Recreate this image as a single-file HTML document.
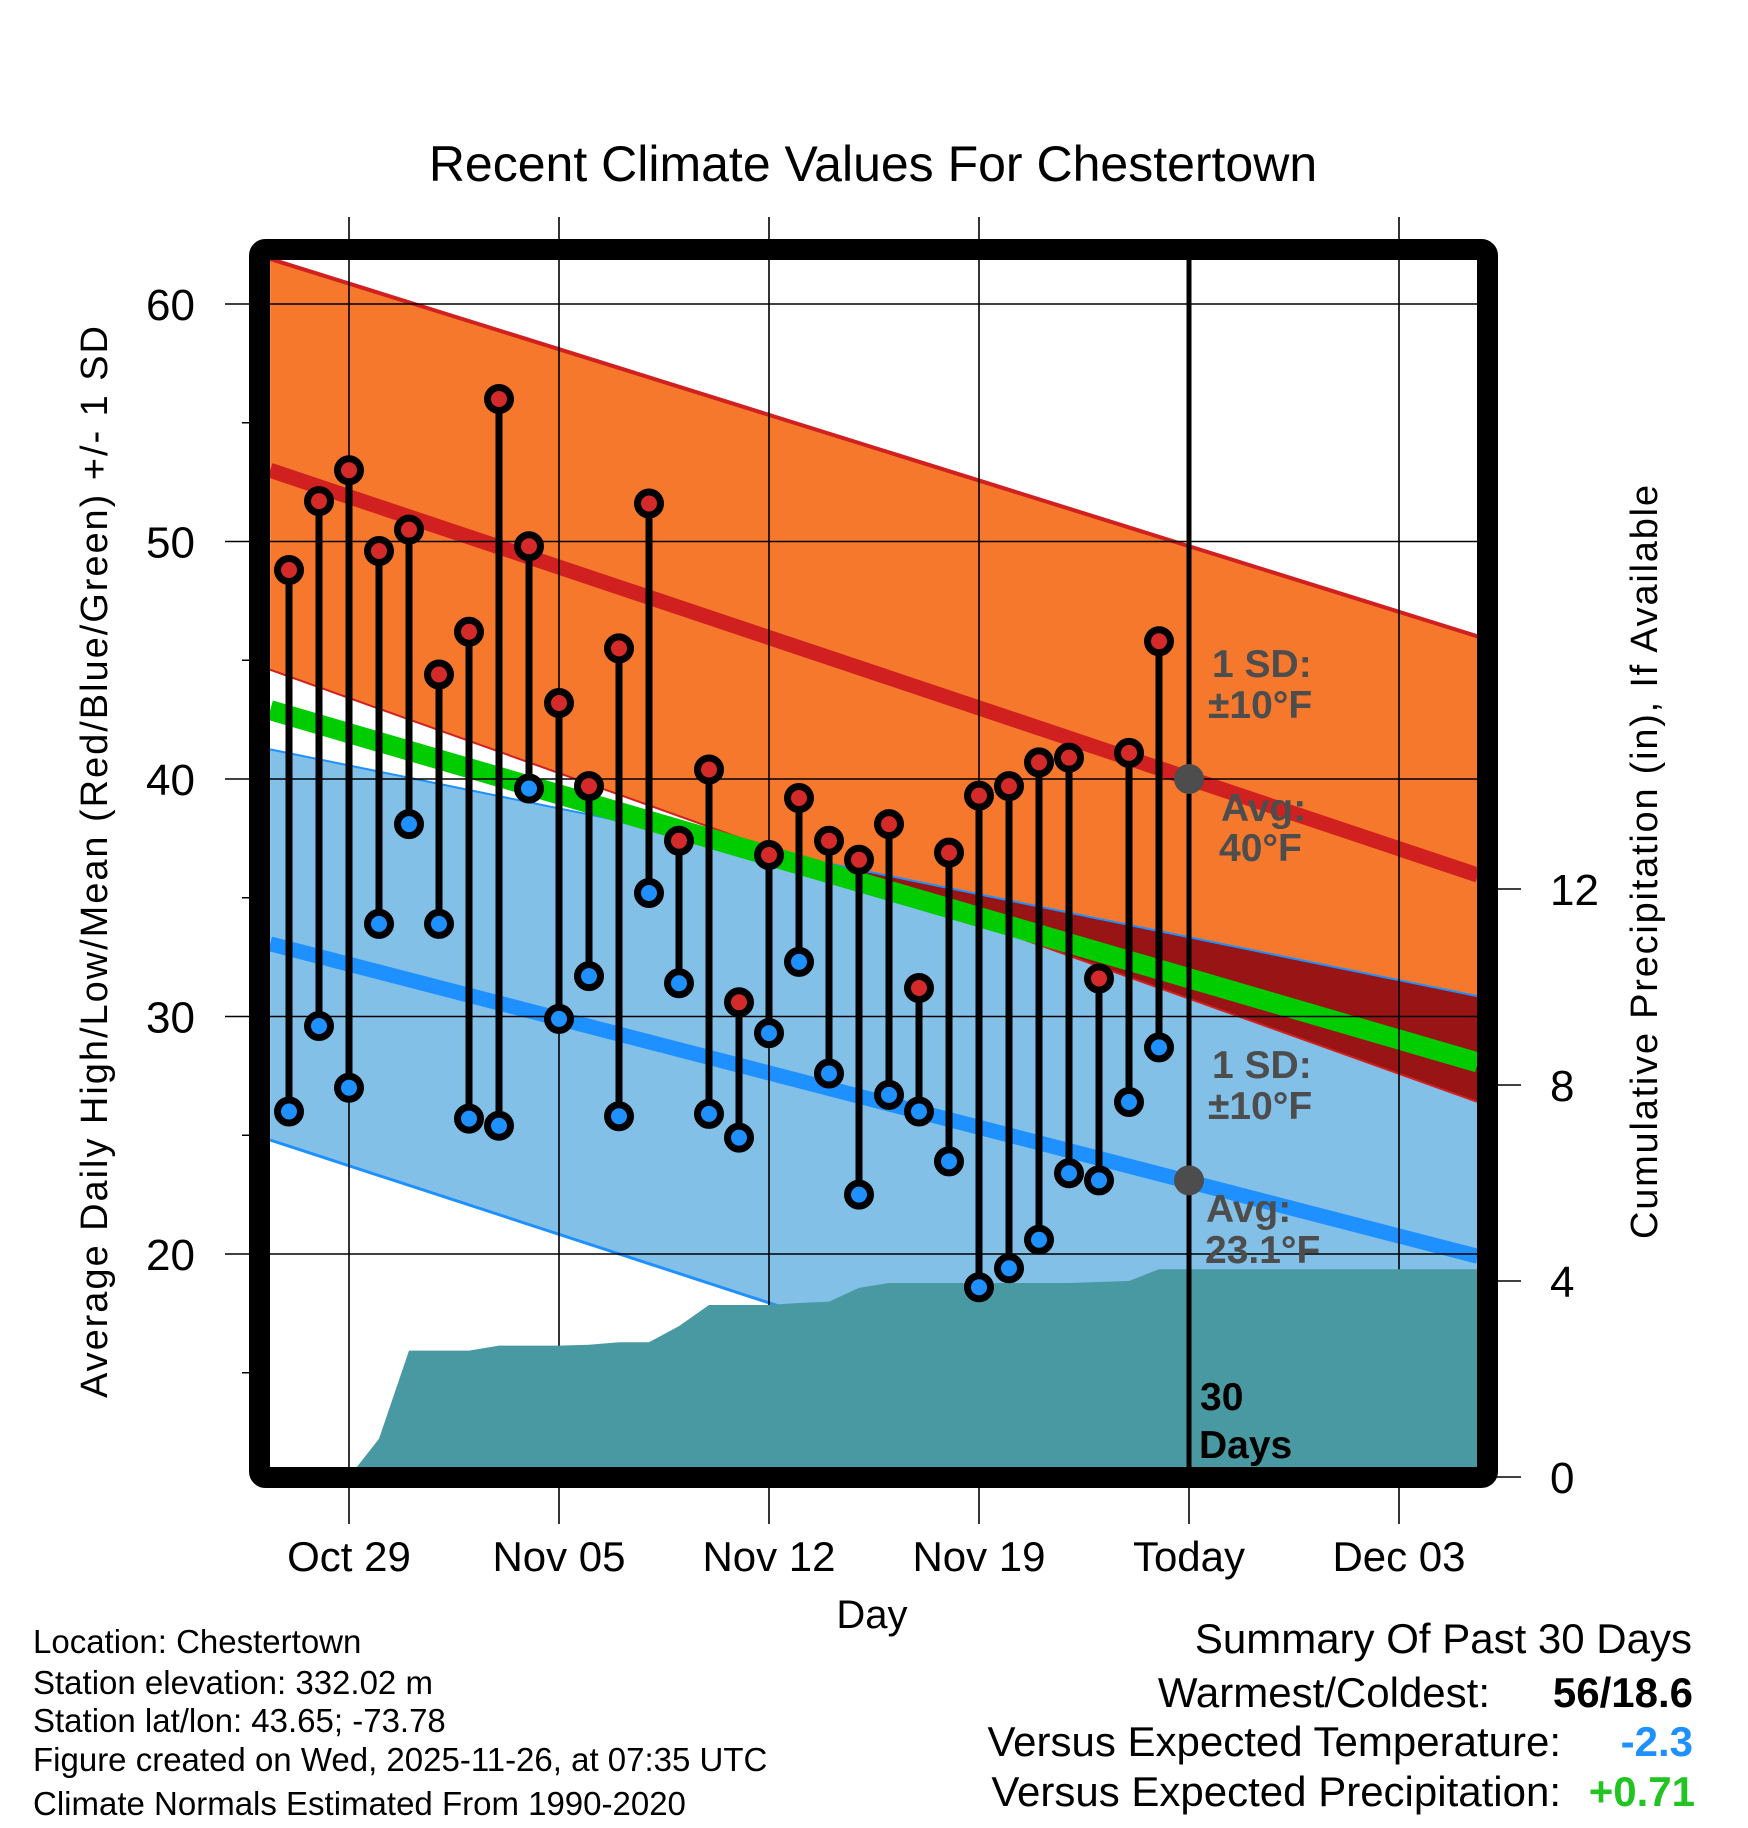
<!DOCTYPE html>
<html><head><meta charset="utf-8"><style>
html,body{margin:0;padding:0;background:#fff;}
svg{display:block;font-family:"Liberation Sans",Arial,sans-serif;}
</style></head><body>
<svg id="chart" width="1748" height="1828" viewBox="0 0 1748 1828" xmlns="http://www.w3.org/2000/svg">
<defs><clipPath id="plotclip"><rect x="270" y="260" width="1208" height="1208"/></clipPath></defs>
<g id="bands" clip-path="url(#plotclip)"></g>
<g id="grid"></g>
<g id="marks"></g>
<g id="axes"></g>
<text x="873" y="181" font-size="50" text-anchor="middle">Recent Climate Values For Chestertown</text>
<text transform="translate(107,862) rotate(-90)" font-size="38" text-anchor="middle" textLength="1072">Average Daily High/Low/Mean (Red/Blue/Green) +/- 1 SD</text>
<text transform="translate(1657,862) rotate(-90)" font-size="38" text-anchor="middle" textLength="754">Cumulative Precipitation (in), If Available</text>
<text x="872" y="1628" font-size="40" text-anchor="middle">Day</text>
<g font-size="33">
<text x="33" y="1653">Location: Chestertown</text>
<text x="33" y="1694">Station elevation: 332.02 m</text>
<text x="33" y="1732">Station lat/lon: 43.65; -73.78</text>
<text x="33" y="1771">Figure created on Wed, 2025-11-26, at 07:35 UTC</text>
<text x="33" y="1815">Climate Normals Estimated From 1990-2020</text>
</g>
<g font-size="42" text-anchor="end">
<text x="1692" y="1653">Summary Of Past 30 Days</text>
<text x="1490" y="1707">Warmest/Coldest:</text>
<text x="1693" y="1707" font-weight="bold">56/18.6</text>
<text x="1561" y="1756">Versus Expected Temperature:</text>
<text x="1693" y="1756" font-weight="bold" fill="#1e90ff">-2.3</text>
<text x="1561" y="1806">Versus Expected Precipitation:</text>
<text x="1695" y="1806" font-weight="bold" fill="#22c422">+0.71</text>
</g>
</svg>
<script>
const dayLabels = ["Oct 29","Nov 05","Nov 12","Nov 19","Today","Dec 03"];
const dayLabelIdx = [2,9,16,23,30,37];
const highs = [48.8,51.7,53.0,49.6,50.5,44.4,46.2,56.0,49.8,43.2,39.7,45.5,51.6,37.4,40.4,30.6,36.8,39.2,37.4,36.6,38.1,31.2,36.9,39.3,39.7,40.7,40.9,31.6,41.1,45.8];
const lows = [26.0,29.6,27.0,33.9,38.1,33.9,25.7,25.4,39.6,29.9,31.7,25.8,35.2,31.4,25.9,24.9,29.3,32.3,27.6,22.5,26.7,26.0,23.9,18.6,19.4,20.6,23.4,23.1,26.4,28.7];
const precip = [0,0,0,0.78,2.58,2.58,2.58,2.68,2.68,2.68,2.7,2.75,2.75,3.08,3.51,3.51,3.51,3.55,3.58,3.86,3.96,3.96,3.96,3.96,3.96,3.96,3.96,3.98,4.0,4.24];
const normDays = [-0.63, 39.63];
const hiUpper = [61.9, 46.0];
const hiMean = [53.0, 35.95];
const hiLower = [44.6, 26.4];
const meanNorm = [42.9, 28.06];
const loUpper = [41.25, 30.85];
const loMean = [33.06, 19.9];
const loLower = [24.8, 8.2];
const yTicks = [20,30,40,50,60];
const yMinor = [15,25,35,45,55];
const pTicks = [0,4,8,12];

const NS="http://www.w3.org/2000/svg";
const xD = d => 289 + 30*d;
const yF = f => 304 + (60-f)*23.75;
const yP = p => 1477 - 49*p;
function mk(tag, attrs, parent){const el=document.createElementNS(NS,tag);for(const k in attrs)el.setAttribute(k,attrs[k]);parent.appendChild(el);return el;}
const bands=document.getElementById('bands'), grid=document.getElementById('grid'), marks=document.getElementById('marks'), axes=document.getElementById('axes');
function band(a,b){const p=[];for(let i=0;i<normDays.length;i++)p.push(xD(normDays[i])+','+yF(a[i]));for(let i=normDays.length-1;i>=0;i--)p.push(xD(normDays[i])+','+yF(b[i]));return p.join(' ');}
function line(a){return normDays.map((d,i)=>xD(d)+','+yF(a[i])).join(' ');}

let e;
e=mk('polygon',{points:band(hiUpper,hiLower),fill:'#f5782c'},bands);


e=mk('polygon',{points:band(loUpper,loLower),fill:'#82c0e8'},bands);


const cp=mk('clipPath',{id:'loclip'},bands);
mk('polygon',{points:band(loUpper,loLower)},cp);
e=mk('polygon',{points:band(hiUpper,hiLower),fill:'#991414','clip-path':'url(#loclip)'},bands);


e=mk('polyline',{points:line(hiUpper),fill:'none',stroke:'#d02020','stroke-width':4},bands);


e=mk('polyline',{points:line(hiLower),fill:'none',stroke:'#d02020','stroke-width':2},bands);


e=mk('polyline',{points:line(loUpper),fill:'none',stroke:'#1e90ff','stroke-width':2},bands);


e=mk('polyline',{points:line(loLower),fill:'none',stroke:'#1e90ff','stroke-width':3},bands);


e=mk('polyline',{points:line(meanNorm),fill:'none',stroke:'#00cc00','stroke-width':20},bands);


e=mk('polyline',{points:line(hiMean),fill:'none',stroke:'#d02020','stroke-width':15},bands);


e=mk('polyline',{points:line(loMean),fill:'none',stroke:'#1e90ff','stroke-width':15},bands);



yTicks.forEach(t=>{
 e=mk('line',{x1:225,x2:1478,y1:yF(t),y2:yF(t),stroke:'#000','stroke-width':1.6},grid);
 
 
});
dayLabelIdx.forEach((d,i)=>{
 if(i===4)return;
 e=mk('line',{x1:xD(d),x2:xD(d),y1:217,y2:1524,stroke:'#000','stroke-width':1.6},grid);
 
 
});

{const pts=[xD(2)+','+yP(0)];precip.forEach((p,i)=>{if(i>=2)pts.push(xD(i)+','+yP(p));});
pts.push('1478,'+yP(precip[precip.length-1]));pts.push('1478,1480');pts.push(xD(2)+',1480');
e=mk('polygon',{points:pts.join(' '),fill:'#4899a1','clip-path':'url(#plotclip)'},marks);

}

e=mk('line',{x1:xD(30),x2:xD(30),y1:260,y2:1468,stroke:'#000','stroke-width':5},marks);


e=mk('line',{x1:xD(30),x2:xD(30),y1:1468,y2:1524,stroke:'#000','stroke-width':1.6},marks);



highs.forEach((h,i)=>{
 e=mk('line',{x1:xD(i),x2:xD(i),y1:yF(h),y2:yF(lows[i]),stroke:'#000','stroke-width':7},marks);
 
 
});
highs.forEach((h,i)=>{
 e=mk('circle',{cx:xD(i),cy:yF(h),r:11.5,fill:'#d42a2a',stroke:'#000','stroke-width':7},marks);
 
 
 e=mk('circle',{cx:xD(i),cy:yF(lows[i]),r:11.5,fill:'#1e90ff',stroke:'#000','stroke-width':7},marks);
 
 
});
e=mk('circle',{cx:xD(30),cy:yF(40),r:15,fill:'#4d4d4d'},marks);


e=mk('circle',{cx:xD(30),cy:yF(23.1),r:15,fill:'#4d4d4d'},marks);



const ann=[["1 SD:",1212,677,'#4d4d4d','hi-sd-label'],["±10°F",1208,718,'#4d4d4d','hi-sd-value'],["Avg:",1221,821,'#4d4d4d','hi-avg-label'],["40°F",1219,861,'#4d4d4d','hi-avg-value'],
["1 SD:",1212,1078,'#4d4d4d','lo-sd-label'],["±10°F",1208,1119,'#4d4d4d','lo-sd-value'],["Avg:",1206,1222,'#4d4d4d','lo-avg-label'],["23.1°F",1205,1263,'#4d4d4d','lo-avg-value'],
["30",1200,1410,'#000','days-count'],["Days",1199,1458,'#000','days-label']];
ann.forEach(a=>{
 e=mk('text',{x:a[1],y:a[2],fill:a[3],'font-size':39,'font-weight':'bold'},marks);
 e.textContent=a[0];
 
 
});

e=mk('rect',{x:259.5,y:249.5,width:1228,height:1228,rx:6,fill:'none',stroke:'#000','stroke-width':21},axes);


yTicks.forEach(t=>{
 e=mk('text',{x:195,y:yF(t)+16,'font-size':44,'text-anchor':'end'},axes);
 e.textContent=t;
 
 
});
yMinor.forEach(t=>{
 e=mk('line',{x1:242,x2:262,y1:yF(t),y2:yF(t),stroke:'#000','stroke-width':1.6},axes);
 
 
});
pTicks.forEach(t=>{
 e=mk('line',{x1:1494,x2:1521,y1:yP(t),y2:yP(t),stroke:'#000','stroke-width':1.6},axes);
 
 
 e=mk('text',{x:1550,y:yP(t)+16,'font-size':44},axes);
 e.textContent=t;
 
 
});
dayLabels.forEach((l,i)=>{
 e=mk('text',{x:xD(dayLabelIdx[i]),y:1571,'font-size':42,'text-anchor':'middle'},axes);
 e.textContent=l;
 
 
});
</script>
</body></html>
